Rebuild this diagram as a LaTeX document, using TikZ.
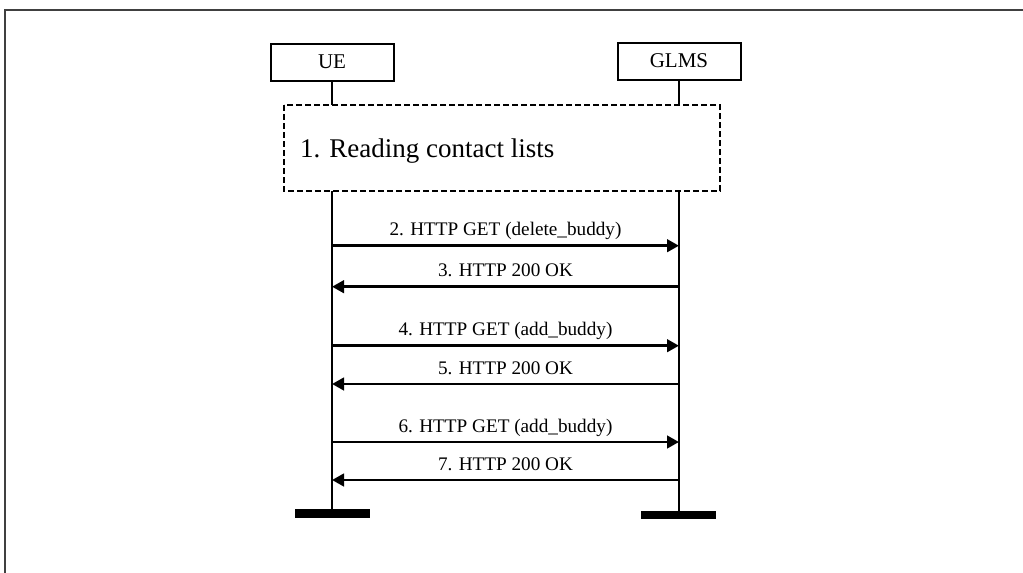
\documentclass[tikz,border=0pt]{standalone}
\usepackage{fontspec}
\setmainfont{Liberation Serif}
\usetikzlibrary{arrows.meta}
\tikzset{
  entity/.style={draw, line width=2pt, minimum width=123pt, minimum height=37pt,
                 inner sep=0pt, font=\fontsize{21}{24}\selectfont},
  phase/.style={draw, line width=1.9pt, dash pattern=on 6pt off 3pt},
  lifeline/.style={line width=2pt},
  msg/.style={line width=2.8pt, -{Triangle[length=12pt,width=12.5pt]}},
  msglabel/.style={anchor=base, yshift=10pt, inner sep=0pt, font=\fontsize{19.2}{22}\selectfont},
  endbar/.style={fill=black, draw=none},
  frameline/.style={line width=2pt, draw=black!75}
}
\begin{document}
\begin{tikzpicture}[x=1pt,y=-1pt]
  \useasboundingbox (0,0) rectangle (1023,573);

  % outer frame (top and left edges)
  \coordinate (frTR) at (1023,10);
  \coordinate (frTL) at (5,10);
  \coordinate (frBL) at (5,573);
  \draw[frameline] (frTR) -- (frTL) -- (frBL);

  % entities
  \node[entity] (ue) at (332,62) {UE};
  \node[entity] (glms) at (679,61) {GLMS};

  % phase box
  \draw[phase] (284,105) rectangle (720,191);
  \coordinate (rdN) at (500,105);
  \coordinate (rdS) at (500,191);
  \node[anchor=base west, inner sep=0pt, font=\fontsize{27}{30}\selectfont] (rd) at (300,157.5) {1. Reading contact lists};

  % lifeline ends
  \coordinate (ueEnd) at (332,509);
  \coordinate (glEnd) at (679,511);

  % lifelines
  \draw[lifeline] (ue.south) -- (ue.south |- rdN);
  \draw[lifeline] (glms.south) -- (glms.south |- rdN);
  \draw[lifeline] (ueEnd |- rdS) -- (ueEnd);
  \draw[lifeline] (glEnd |- rdS) -- (glEnd);

  % end bars
  \fill[endbar] (295,509) rectangle (370,518);
  \fill[endbar] (641,511) rectangle (716,519);

  % messages
  \draw[msg] (ueEnd |- 0,245.7) -- (glEnd |- 0,245.7)
    node[msglabel, midway] {2. HTTP GET (delete\_buddy)};
  \draw[msg] (glEnd |- 0,286.7) -- (ueEnd |- 0,286.7)
    node[msglabel, midway] {3. HTTP 200 OK};
  \draw[msg] (ueEnd |- 0,345.7) -- (glEnd |- 0,345.7)
    node[msglabel, midway] {4. HTTP GET (add\_buddy)};
  \draw[msg] (glEnd |- 0,384) -- (ueEnd |- 0,384)
    node[msglabel, midway] {5. HTTP 200 OK};
  \draw[msg] (ueEnd |- 0,442) -- (glEnd |- 0,442)
    node[msglabel, midway] {6. HTTP GET (add\_buddy)};
  \draw[msg] (glEnd |- 0,480) -- (ueEnd |- 0,480)
    node[msglabel, midway] {7. HTTP 200 OK};
\end{tikzpicture}
\end{document}
